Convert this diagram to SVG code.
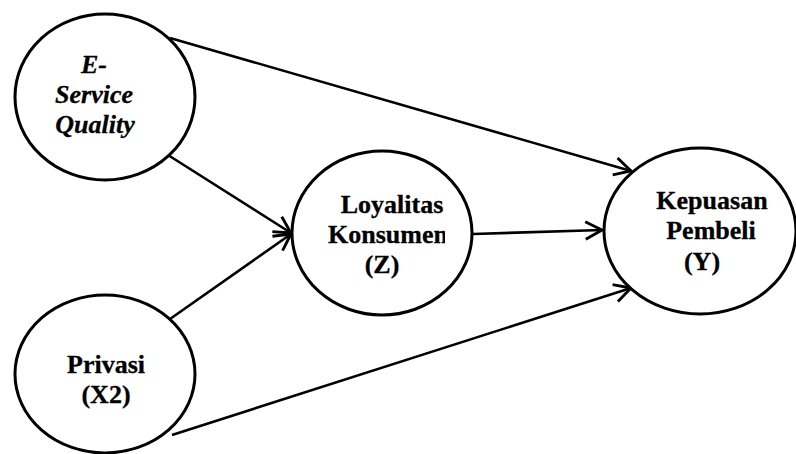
<svg xmlns="http://www.w3.org/2000/svg" width="796" height="454" viewBox="0 0 796 454">
<style>
.node{fill:#fff;stroke:#000;stroke-width:3}
.t{font-family:"Liberation Serif","Times New Roman",serif;font-size:26px;font-weight:bold;text-anchor:middle;fill:#000;stroke:#000;stroke-width:0.3}
.i{font-style:italic}
.c{stroke:#000;stroke-width:2.6;fill:none;marker-end:url(#ah)}
</style>
<defs>
<marker id="ah" markerUnits="userSpaceOnUse" markerWidth="22" markerHeight="22" refX="16" refY="9" orient="auto" viewBox="0 0 20 18">
<path d="M1,1 L16,9 L1,17" fill="none" stroke="#000" stroke-width="2.6"/>
</marker>
<clipPath id="kc"><rect x="0" y="0" width="445" height="454"/></clipPath>
</defs>
<rect width="796" height="454" fill="#fff"/>
<g id="connectors">
<line class="c" x1="170" y1="38" x2="631" y2="171"/>
<line class="c" x1="168" y1="155" x2="291" y2="233"/>
<line class="c" x1="170" y1="319" x2="291" y2="234"/>
<line class="c" x1="172" y1="435" x2="631" y2="288"/>
<line class="c" x1="473" y1="234" x2="602" y2="230"/>
</g>
<g id="esq">
<ellipse class="node" cx="105" cy="97" rx="90" ry="83"/>
<text class="t i" x="94" y="73">E-</text>
<text class="t i" x="94" y="103">Service</text>
<text class="t i" x="95" y="133">Quality</text>
</g>
<g id="privasi">
<ellipse class="node" cx="105" cy="374" rx="90" ry="79"/>
<text class="t" x="106" y="373">Privasi</text>
<text class="t" x="106" y="403">(X2)</text>
</g>
<g id="loyalitas">
<ellipse class="node" cx="382" cy="233" rx="90" ry="82"/>
<text class="t" x="392" y="213">Loyalitas</text>
<text class="t" x="388" y="243" clip-path="url(#kc)">Konsumen</text>
<text class="t" x="382" y="273">(Z)</text>
</g>
<g id="kepuasan">
<ellipse class="node" cx="700" cy="231" rx="96" ry="83"/>
<text class="t" x="712" y="209">Kepuasan</text>
<text class="t" x="711" y="239">Pembeli</text>
<text class="t" x="702" y="270">(Y)</text>
</g>
</svg>
